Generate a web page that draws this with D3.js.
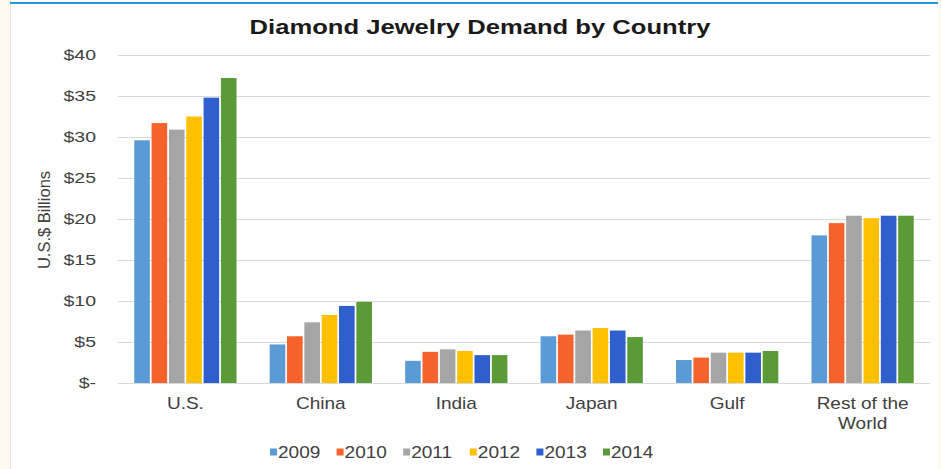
<!DOCTYPE html>
<html>
<head>
<meta charset="utf-8">
<script src="https://cdn.jsdelivr.net/npm/d3@7"></script>
<style>
  html, body { margin: 0; padding: 0; background: #fff; }
  svg { display: block; font-family: "Liberation Sans", Arial, sans-serif; }
</style>
</head>
<body>
<svg id="chart"></svg>
<script>
// chart data
const countries = ["U.S.", "China", "India", "Japan", "Gulf", "Rest of the World"];
const years = ["2009", "2010", "2011", "2012", "2013", "2014"];
const colors = ["#5b9bd5", "#f5622b", "#a5a5a5", "#ffc000", "#2e5fcc", "#5a9b38"];
const yTicks = [0, 5, 10, 15, 20, 25, 30, 35, 40];

const v2009 = [29.6, 4.7, 2.7, 5.7, 2.8, 18.0];
const v2010 = [31.7, 5.7, 3.8, 5.9, 3.1, 19.5];
const v2011 = [30.9, 7.4, 4.1, 6.4, 3.7, 20.4];
const v2012 = [32.5, 8.3, 3.9, 6.7, 3.7, 20.1];
const v2013 = [34.8, 9.4, 3.4, 6.4, 3.7, 20.4];
const v2014 = [37.2, 9.9, 3.4, 5.6, 3.9, 20.4];
const series = [v2009, v2010, v2011, v2012, v2013, v2014];

const W = 941, H = 469;
const svg = d3.select("#chart").attr("width", W).attr("height", H);

// frame like the screenshot: beige strips and a blue top line
svg.append("rect").attr("x", 0).attr("y", 0).attr("width", 10).attr("height", H).attr("fill", "#fff8ec");
svg.append("rect").attr("x", 938).attr("y", 0).attr("width", 3).attr("height", H).attr("fill", "#fff8ec");
svg.append("line").attr("x1", 10.5).attr("x2", 10.5).attr("y1", 0).attr("y2", H)
    .attr("stroke", "#e6e6e6").attr("stroke-width", 1);
svg.append("line").attr("x1", 10).attr("x2", 938).attr("y1", 3).attr("y2", 3)
    .attr("stroke", "#1e9be0").attr("stroke-width", 2);

const plotLeft = 118, plotRight = 930, plotTop = 55, plotBottom = 383;

const x0 = d3.scaleBand().domain(countries).range([plotLeft, plotRight]).paddingInner(0.245).paddingOuter(0.12);
const x1 = d3.scaleBand().domain(years).range([0, x0.bandwidth()]).paddingInner(0.1);
const y = d3.scaleLinear().domain([0, 40]).range([plotBottom, plotTop]);

// gridlines
svg.append("g")
    .selectAll("line")
    .data(yTicks)
    .enter()
    .append("line")
    .attr("x1", plotLeft).attr("x2", plotRight)
    .attr("y1", d => y(d) + 0.5).attr("y2", d => y(d) + 0.5)
    .attr("stroke", "#d9d9d9").attr("stroke-width", 1);

// y axis labels (the screenshot text is stretched sideways)
const yAxis = d3.axisLeft(y).tickValues(yTicks).tickSize(0).tickPadding(0)
    .tickFormat(d => d === 0 ? "$-" : "$" + d);
const gy = svg.append("g").attr("transform", "translate(96,0)").call(yAxis);
gy.select(".domain").remove();
gy.selectAll("text")
    .attr("font-size", "15px")
    .attr("fill", "#404040")
    .attr("font-family", "Liberation Sans, Arial, sans-serif")
    .attr("transform", "scale(1.3,1)");

// bars
const groups = svg.append("g")
    .selectAll("g")
    .data(countries)
    .enter()
    .append("g")
    .attr("transform", d => "translate(" + x0(d) + ",0)");

groups.selectAll("rect")
    .data((c, ci) => years.map((yr, si) => ({ yr: yr, v: series[si][ci], color: colors[si] })))
    .enter()
    .append("rect")
    .attr("x", d => x1(d.yr))
    .attr("y", d => y(d.v))
    .attr("width", x1.bandwidth())
    .attr("height", d => plotBottom - y(d.v))
    .attr("fill", d => d.color);

// x axis labels
const xAxis = d3.axisBottom(x0).tickSize(0).tickPadding(0);
const gx = svg.append("g").attr("transform", "translate(0," + plotBottom + ")").call(xAxis);
gx.select(".domain").remove();
gx.selectAll("text").remove();
gx.selectAll(".tick")
    .append("text")
    .attr("text-anchor", "middle")
    .attr("font-size", "17px")
    .attr("fill", "#404040")
    .attr("font-family", "Liberation Sans, Arial, sans-serif")
    .attr("transform", "scale(1.12,1)")
    .each(function (d) {
        const lines = d === "Rest of the World" ? ["Rest of the", "World"] : [d];
        d3.select(this).selectAll("tspan")
            .data(lines)
            .enter()
            .append("tspan")
            .attr("x", 0)
            .attr("y", (l, i) => 26 + i * 20)
            .text(l => l);
    });

// y title
svg.append("text")
    .attr("transform", "translate(50,220) rotate(-90)")
    .attr("text-anchor", "middle")
    .attr("font-size", "16.5px")
    .attr("fill", "#404040")
    .text("U.S.$ Billions");

// title
svg.append("text")
    .attr("transform", "translate(480,34) scale(1.22,1)")
    .attr("text-anchor", "middle")
    .attr("font-size", "21px")
    .attr("font-weight", "bold")
    .attr("fill", "#1a1a1a")
    .text("Diamond Jewelry Demand by Country");

// legend
const legend = svg.append("g")
    .selectAll("g")
    .data(years)
    .enter()
    .append("g")
    .attr("transform", (d, i) => "translate(" + (270 + i * 66.6) + ",452)");
legend.append("rect")
    .attr("x", 0).attr("y", -3.5).attr("width", 7).attr("height", 7)
    .attr("fill", (d, i) => colors[i]);
legend.append("text")
    .attr("transform", "translate(8,0) scale(1.12,1)")
    .attr("dy", "0.36em")
    .attr("font-size", "17px")
    .attr("fill", "#404040")
    .text(d => d);
</script>
</body>
</html>
